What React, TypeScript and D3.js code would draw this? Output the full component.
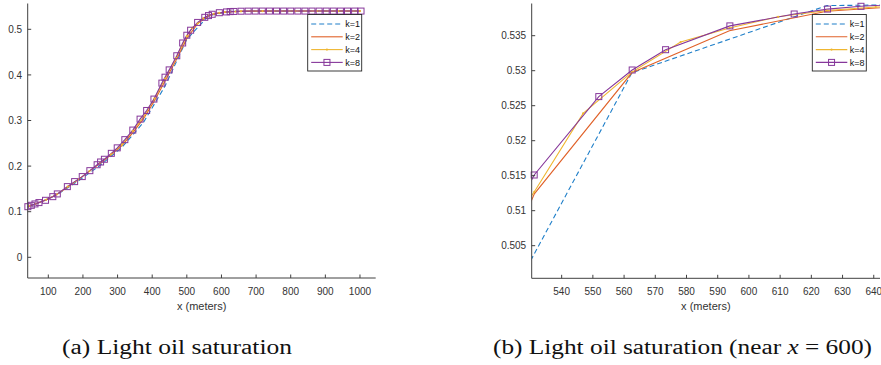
import React from 'react';
import * as d3 from 'd3';

// Light oil saturation profiles for refinement levels k = 1, 2, 4, 8
const k1X = [0, 62.5, 125, 187.5, 250, 312.5, 375, 437.5, 500, 562.5, 625, 687.5, 750, 812.5, 875, 937.5, 1000];
const k1Y = [0.102, 0.116, 0.137, 0.168, 0.202, 0.241, 0.296, 0.376, 0.478, 0.5297, 0.5393, 0.5396, 0.5398, 0.5399, 0.54, 0.54, 0.54];

const k2X = [31.25, 62.5, 93.75, 125, 156.25, 187.5, 218.75, 250, 281.25, 312.5, 343.75, 375, 406.25, 437.5, 468.75, 500,
  531.25, 562.5, 593.75, 625, 656.25, 687.5, 718.75, 750, 781.25, 812.5, 843.75, 875, 906.25, 937.5, 968.75, 1000];
const k2Y = [0.109, 0.117, 0.126, 0.138, 0.154, 0.171, 0.189, 0.206, 0.225, 0.245, 0.273, 0.304, 0.343, 0.387, 0.432, 0.48,
  0.5124, 0.5297, 0.5357, 0.5385, 0.5394, 0.5398, 0.5399, 0.54, 0.54, 0.54, 0.54, 0.54, 0.54, 0.54, 0.54, 0.54];

const k4X = [31.25, 46.875, 62.5, 93.75, 125, 156.25, 187.5, 218.75, 250, 281.25, 312.5, 343.75, 375, 406.25, 437.5, 468.75,
  484.375, 500, 515.625, 531.25, 546.875, 562.5, 578.125, 593.75, 609.375, 625, 640.625, 656.25, 687.5, 718.75, 750,
  812.5, 875, 937.5, 1000];
const k4Y = [0.109, 0.113, 0.117, 0.126, 0.138, 0.155, 0.171, 0.189, 0.207, 0.226, 0.247, 0.277, 0.308, 0.348, 0.392, 0.437,
  0.462, 0.485, 0.503, 0.5127, 0.5239, 0.5298, 0.5341, 0.5361, 0.5377, 0.5386, 0.5391, 0.5395, 0.5398, 0.5399, 0.54,
  0.54, 0.54, 0.54, 0.54];

const k8X = [41, 51, 61.5, 73, 92, 113, 126, 155, 176, 198, 220, 241, 251, 262, 282, 299, 321, 344, 365, 384, 405, 428, 437,
  449, 471, 488, 500, 511, 531.2, 551.9, 562.6, 573.3, 593.9, 614.5, 625.2, 635.9, 656.5, 677, 697.5, 718, 738.5, 759,
  779.5, 800, 820.5, 841, 861.5, 882, 902.5, 923, 943.5, 964, 984.5, 1003];
const k8Y = [0.111, 0.114, 0.117, 0.12, 0.125, 0.133, 0.139, 0.155, 0.166, 0.177, 0.19, 0.203, 0.209, 0.215, 0.228, 0.24,
  0.258, 0.279, 0.303, 0.322, 0.347, 0.382, 0.395, 0.411, 0.442, 0.47, 0.487, 0.498, 0.5151, 0.5263, 0.5301, 0.533,
  0.5364, 0.5381, 0.5388, 0.5392, 0.5397, 0.5399, 0.54, 0.54, 0.54, 0.54, 0.54, 0.54, 0.54, 0.54, 0.54, 0.54, 0.54, 0.54,
  0.54, 0.54, 0.54, 0.54];

const seriesLabels = ['k=1', 'k=2', 'k=4', 'k=8'];

const overviewXTicks = [100, 200, 300, 400, 500, 600, 700, 800, 900, 1000];
const overviewYTicks = [0, 0.1, 0.2, 0.3, 0.4, 0.5];
const detailXTicks = [540, 550, 560, 570, 580, 590, 600, 610, 620, 630, 640];
const detailYTicks = [0.505, 0.51, 0.515, 0.52, 0.525, 0.53, 0.535];

type Marker = 'none' | 'dot' | 'square';
interface Series {
  label: string;
  pts: [number, number][];
  color: string;
  dash?: string;
  marker: Marker;
}

const zip = (xs: number[], ys: number[]): [number, number][] => xs.map((v, i) => [v, ys[i]]);

const SERIES: Series[] = [
  { label: seriesLabels[0], pts: zip(k1X, k1Y), color: '#1f7fc9', dash: '5,3', marker: 'none' },
  { label: seriesLabels[1], pts: zip(k2X, k2Y), color: '#e0622a', marker: 'none' },
  { label: seriesLabels[2], pts: zip(k4X, k4Y), color: '#efb630', marker: 'dot' },
  { label: seriesLabels[3], pts: zip(k8X, k8Y), color: '#86379a', marker: 'square' },
];

const AXIS = '#404040';
const TEXT = '#333';
const SANS = '"Liberation Sans", Arial, Helvetica, sans-serif';

interface PanelProps {
  id: string;
  left: number;
  right: number;
  top: number;
  bottom: number;
  xDomain: [number, number];
  yDomain: [number, number];
  xTicks: number[];
  yTicks: number[];
  legendX: number;
}

function MarkerShape({ kind, cx, cy, color }: { kind: Marker; cx: number; cy: number; color: string }) {
  if (kind === 'square') {
    return <rect x={cx - 3} y={cy - 3} width={6} height={6} fill="none" stroke={color} strokeWidth={1} />;
  }
  if (kind === 'dot') {
    return <circle cx={cx} cy={cy} r={1.1} fill={color} />;
  }
  return null;
}

function Panel({ id, left, right, top, bottom, xDomain, yDomain, xTicks, yTicks, legendX }: PanelProps) {
  const x = d3.scaleLinear().domain(xDomain).range([left, right]);
  const y = d3.scaleLinear().domain(yDomain).range([bottom, top]);
  const line = d3.line<[number, number]>().x((d) => x(d[0])).y((d) => y(d[1]));
  const fmt = (v: number) => String(+v.toFixed(3));
  const inside = (d: [number, number]) =>
    d[0] >= xDomain[0] && d[0] <= xDomain[1] && d[1] >= yDomain[0] && d[1] <= yDomain[1];

  const legendTop = 14.5;
  const rowY = [24, 36.8, 49.6, 62.4];

  return (
    <g>
      <defs>
        <clipPath id={`clip-${id}`}>
          <rect x={left} y={top} width={right - left} height={bottom - top} />
        </clipPath>
      </defs>

      {/* data */}
      <g clipPath={`url(#clip-${id})`}>
        {SERIES.map((s) => (
          <path key={s.label} d={line(s.pts) || ''} fill="none" stroke={s.color} strokeWidth={1.1}
            strokeDasharray={s.dash} />
        ))}
      </g>
      {SERIES.map((s) => (
        <g key={`m-${s.label}`}>
          {s.pts.filter(inside).map((d, i) => (
            <MarkerShape key={i} kind={s.marker} cx={x(d[0])} cy={y(d[1])} color={s.color} />
          ))}
        </g>
      ))}

      {/* axes */}
      <line x1={left} x2={right} y1={bottom} y2={bottom} stroke={AXIS} strokeWidth={1} />
      <line x1={left} x2={left} y1={top} y2={bottom} stroke={AXIS} strokeWidth={1} />
      {xTicks.map((t) => (
        <g key={`xt-${t}`}>
          <line x1={x(t)} x2={x(t)} y1={bottom} y2={bottom - 3.5} stroke={AXIS} strokeWidth={1} />
          <text x={x(t)} y={294.6} textAnchor="middle" fontFamily={SANS} fontSize={10} fill={TEXT}>
            {fmt(t)}
          </text>
        </g>
      ))}
      {yTicks.map((t) => (
        <g key={`yt-${t}`}>
          <line x1={left} x2={left + 3.5} y1={y(t)} y2={y(t)} stroke={AXIS} strokeWidth={1} />
          <text x={left - 5.5} y={y(t) + 3.6} textAnchor="end" fontFamily={SANS} fontSize={10} fill={TEXT}>
            {fmt(t)}
          </text>
        </g>
      ))}
      <text x={(left + right) / 2} y={309.5} textAnchor="middle" fontFamily={SANS} fontSize={11} fill={TEXT}>
        x (meters)
      </text>

      {/* legend */}
      <rect x={legendX} y={legendTop} width={54} height={56.5} fill="#fff" stroke="#262626" strokeWidth={0.9} />
      {SERIES.map((s, i) => {
        const ly = rowY[i];
        const x0 = legendX + 3.5;
        const x1 = legendX + 35;
        return (
          <g key={`lg-${s.label}`}>
            <line x1={x0} x2={x1} y1={ly} y2={ly} stroke={s.color} strokeWidth={1.1} strokeDasharray={s.dash} />
            <MarkerShape kind={s.marker} cx={(x0 + x1) / 2} cy={ly} color={s.color} />
            <text x={legendX + 37.5} y={ly + 3.2} fontFamily={SANS} fontSize={9} fill="#111">
              {s.label}
            </text>
          </g>
        );
      })}
    </g>
  );
}

export default function App() {
  return (
    <svg width={881} height={365} viewBox="0 0 881 365"
      style={{ position: 'absolute', left: 0, top: 0, background: '#fff' }}>
      <rect x={0} y={0} width={881} height={365} fill="#fff" />
      <Panel id="overview" left={27.7} right={375.7} top={3.5} bottom={278}
        xDomain={[40.5, 1045.4]} yDomain={[-0.0454, 0.5566]}
        xTicks={overviewXTicks} yTicks={overviewYTicks} legendX={307.7} />
      <Panel id="detail" left={531.7} right={880} top={3.5} bottom={278.3}
        xDomain={[530.4, 642]} yDomain={[0.50034, 0.5396]}
        xTicks={detailXTicks} yTicks={detailYTicks} legendX={812.3} />

      <text x={62} y={354} fontFamily='"Liberation Serif", "Times New Roman", serif' fontSize={20}
        fill="#111" textLength={230} lengthAdjust="spacingAndGlyphs">
        (a) Light oil saturation
      </text>
      <text x={493} y={354} fontFamily='"Liberation Serif", "Times New Roman", serif' fontSize={20}
        fill="#111" textLength={379} lengthAdjust="spacingAndGlyphs">
        (b) Light oil saturation (near <tspan fontStyle="italic">x</tspan> = 600)
      </text>
    </svg>
  );
}
